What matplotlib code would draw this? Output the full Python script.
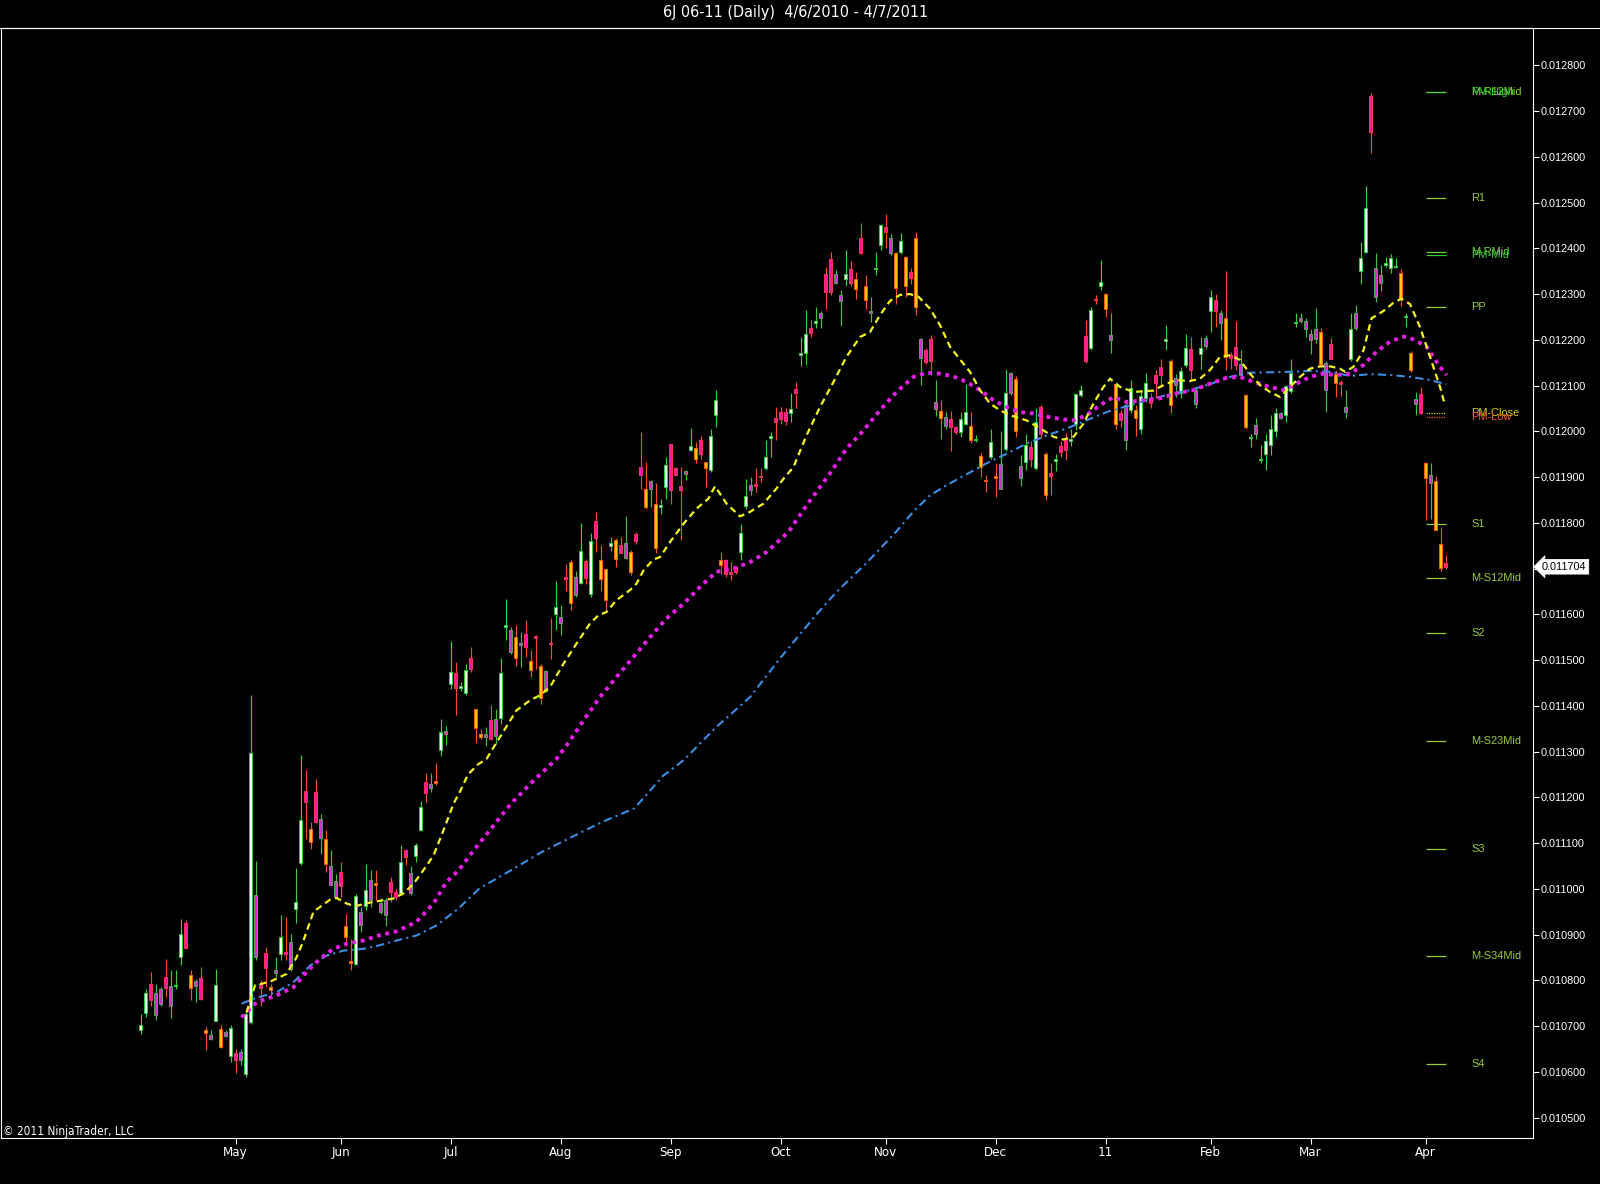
import matplotlib
matplotlib.use("Agg")
import matplotlib.pyplot as plt
from matplotlib.patches import Rectangle
from matplotlib.collections import PatchCollection
from matplotlib.lines import Line2D
from matplotlib import font_manager
import matplotlib.transforms as mtransforms
import numpy as np

# ---------------- data (prices in units of 1e-6) ----------------
PRICE_UNIT = 1e-6
title_text = "6J 06-11 (Daily)  4/6/2010 - 4/7/2011"
copyright_text = "\u00a9 2011 NinjaTrader, LLC"

month_labels = ["May", "Jun", "Jul", "Aug", "Sep", "Oct", "Nov", "Dec", "11", "Feb", "Mar", "Apr"]
month_bar = [19, 40, 62, 84, 106, 128, 149, 171, 193, 214, 234, 257]

price_ticks = [10500, 10600, 10700, 10800, 10900, 11000, 11100, 11200, 11300, 11400, 11500, 11600,
               11700, 11800, 11900, 12000, 12100, 12200, 12300, 12400, 12500, 12600, 12700, 12800]

# bar colouring state per bar (W / M / Y / P)
bar_state = ("WWPMMPMWWP" "YMPYMWYMWP" "MWWMPPYMWP" "MWWPYPMYMM" "PYYWMWMYMM"
             "PPWPMWWPMY" "WMWPWWPYYM" "PMWWMYMPYP" "YMPWMPYMWP" "WPYYWYPMYP"
             "PYMYWWPPPM" "WYPYWWYPPP" "WWMPPWWPPP" "WPWWPWMPPM" "MWPYPYMWWP"
             "MYWYPYMPPM" "YMPPWWYWYY" "WYMWMYMWPW" "PYPWPPWWWP" "WPWYMYPMWY"
             "WWPPPWYMWW" "PMWMWPMYPP" "MYWMWWWWMW" "WWMMMMYMPY" "PMWMWWPMMW"
             "WWYWYMPYMY" "YP")

opens = [10691, 10729, 10791, 10772, 10782, 10807, 10787, 10788, 10852, 10926,
         10811, 10798, 10806, 10691, 10680, 10712, 10694, 10687, 10634, 10642,
         10643, 10596, 10709, 10987, 10791, 10860, 10785, 10822, 10858, 10863,
         10884, 10955, 11057, 11214, 11131, 11212, 11153, 11108, 11050, 11017,
         11037, 10919, 10842, 10836, 10949, 10962, 11020, 11013, 10968, 10975,
         11014, 10993, 10991, 11084, 11035, 11071, 11128, 11234, 11230, 11235,
         11304, 11345, 11447, 11471, 11438, 11428, 11505, 11394, 11339, 11338,
         11370, 11372, 11374, 11573, 11566, 11550, 11537, 11556, 11499, 11552,
         11488, 11476, 11538, 11600, 11594, 11682, 11714, 11682, 11669, 11716,
         11645, 11803, 11718, 11698, 11749, 11763, 11751, 11755, 11736, 11776,
         11921, 11873, 11891, 11842, 11834, 11878, 11972, 11920, 11881, 11913,
         11960, 11964, 11981, 11932, 11915, 12035, 11718, 11718, 11693, 11704,
         11736, 11837, 11882, 11884, 11902, 11919, 11985, 12030, 12043, 12043,
         12039, 12093, 12166, 12171, 12225, 12236, 12259, 12344, 12376, 12343,
         12299, 12332, 12354, 12332, 12422, 12317, 12263, 12354, 12407, 12447,
         12422, 12389, 12392, 12380, 12349, 12422, 12201, 12177, 12201, 12064,
         12045, 12032, 12026, 12010, 11999, 12017, 12011, 11982, 11945, 11894,
         11943, 11902, 11929, 11962, 12128, 12115, 11924, 11933, 11966, 11919,
         12053, 11951, 11909, 11935, 11967, 11981, 11979, 12016, 12079, 12208,
         12181, 12290, 12317, 12300, 12210, 12103, 12039, 12057, 12046, 12046,
         12004, 12072, 12072, 12123, 12141, 12198, 12154, 12116, 12084, 12145,
         12179, 12090, 12169, 12204, 12263, 12288, 12258, 12247, 12166, 12185,
         12148, 12079, 11985, 12013, 11937, 11950, 11970, 12001, 12039, 12035,
         12088, 12236, 12247, 12242, 12212, 12223, 12218, 12150, 12191, 12125,
         12108, 12054, 12159, 12258, 12351, 12393, 12733, 12356, 12341, 12364,
         12358, 12359, 12347, 12249, 12172, 12070, 12081, 11930, 11904, 11892,
         11753, 11712]

highs = [10727, 10782, 10818, 10793, 10785, 10847, 10823, 10823, 10933, 10931,
         10823, 10804, 10829, 10698, 10691, 10825, 10702, 10691, 10702, 10650,
         10650, 10734, 11423, 11060, 10800, 10873, 10793, 10850, 10942, 10938,
         10902, 11046, 11292, 11259, 11146, 11241, 11163, 11128, 11084, 11033,
         11059, 10944, 10891, 10989, 10960, 11055, 11042, 11041, 10979, 10979,
         11026, 11000, 11095, 11088, 11049, 11101, 11191, 11253, 11254, 11274,
         11372, 11355, 11542, 11496, 11452, 11491, 11529, 11394, 11350, 11354,
         11401, 11394, 11505, 11634, 11572, 11576, 11561, 11587, 11521, 11554,
         11492, 11479, 11591, 11673, 11620, 11709, 11718, 11695, 11800, 11720,
         11778, 11824, 11751, 11700, 11769, 11766, 11769, 11814, 11741, 11780,
         11999, 11933, 11893, 11886, 11853, 11944, 11972, 11922, 11921, 11916,
         12008, 11977, 11989, 11933, 12006, 12090, 11736, 11720, 11714, 11705,
         11797, 11896, 11900, 11919, 11919, 11982, 11999, 12053, 12053, 12050,
         12083, 12108, 12207, 12265, 12243, 12272, 12263, 12360, 12392, 12352,
         12309, 12396, 12372, 12349, 12456, 12341, 12294, 12392, 12454, 12476,
         12432, 12392, 12434, 12383, 12356, 12436, 12203, 12181, 12210, 12112,
         12068, 12042, 12045, 12011, 12042, 12104, 12042, 11991, 11953, 11904,
         12006, 11930, 12001, 12137, 12130, 12120, 11948, 11995, 11979, 12050,
         12057, 11955, 11930, 11950, 11979, 11996, 12006, 12084, 12101, 12243,
         12271, 12298, 12374, 12303, 12259, 12106, 12046, 12068, 12112, 12057,
         12090, 12128, 12083, 12134, 12159, 12232, 12157, 12126, 12140, 12212,
         12207, 12099, 12207, 12210, 12309, 12301, 12265, 12351, 12174, 12242,
         12177, 12081, 11995, 12028, 11970, 11995, 12035, 12050, 12043, 12101,
         12157, 12259, 12258, 12247, 12223, 12269, 12225, 12154, 12205, 12134,
         12112, 12090, 12259, 12276, 12414, 12536, 12739, 12390, 12363, 12382,
         12387, 12378, 12354, 12259, 12176, 12086, 12097, 11933, 11930, 11902,
         11791, 11729]

lows = [10683, 10720, 10745, 10714, 10745, 10763, 10718, 10782, 10833, 10869,
        10758, 10753, 10756, 10647, 10670, 10711, 10653, 10676, 10621, 10597,
        10614, 10589, 10705, 10844, 10743, 10785, 10769, 10807, 10844, 10844,
        10820, 10925, 11051, 11108, 11086, 11143, 11077, 11037, 11008, 10979,
        10982, 10876, 10823, 10833, 10906, 10953, 10960, 10975, 10946, 10918,
        10971, 10975, 10989, 11051, 10986, 11059, 11127, 11190, 11212, 11226,
        11290, 11314, 11436, 11380, 11432, 11423, 11474, 11319, 11328, 11313,
        11325, 11317, 11361, 11543, 11514, 11488, 11485, 11507, 11463, 11481,
        11403, 11430, 11503, 11565, 11554, 11652, 11609, 11638, 11667, 11666,
        11638, 11736, 11652, 11609, 11739, 11704, 11733, 11720, 11685, 11753,
        11875, 11831, 11835, 11734, 11820, 11851, 11841, 11904, 11763, 11893,
        11957, 11930, 11940, 11878, 11911, 12010, 11689, 11682, 11674, 11689,
        11718, 11831, 11860, 11868, 11889, 11915, 11944, 11982, 12017, 12013,
        12021, 12050, 12143, 12148, 12207, 12225, 12225, 12268, 12298, 12323,
        12230, 12317, 12317, 12290, 12387, 12268, 12239, 12341, 12396, 12400,
        12385, 12279, 12387, 12294, 12323, 12254, 12101, 12148, 12123, 12033,
        11984, 12006, 11957, 11995, 11988, 12013, 11975, 11977, 11900, 11868,
        11940, 11857, 11873, 11957, 12079, 11988, 11880, 11916, 11922, 11916,
        11986, 11849, 11860, 11913, 11944, 11937, 11967, 12002, 12075, 12150,
        12177, 12279, 12309, 12249, 12171, 12006, 12010, 11960, 12039, 11989,
        11995, 12064, 12050, 12072, 12097, 12177, 12040, 12075, 12072, 12141,
        12112, 12050, 12137, 12179, 12218, 12229, 12199, 12134, 12137, 12135,
        12119, 12006, 11966, 11984, 11931, 11916, 11948, 11988, 12026, 12021,
        12084, 12229, 12236, 12207, 12170, 12192, 12141, 12043, 12157, 12075,
        12077, 12030, 12154, 12221, 12323, 12390, 12609, 12283, 12307, 12360,
        12345, 12356, 12274, 12229, 12130, 12035, 12037, 11806, 11809, 11785,
        11695, 11700]

closes = [10702, 10772, 10758, 10725, 10749, 10784, 10743, 10790, 10902, 10871,
          10783, 10787, 10760, 10685, 10672, 10790, 10654, 10678, 10696, 10625,
          10626, 10727, 11296, 10852, 10783, 10827, 10778, 10815, 10895, 10858,
          10825, 10971, 11151, 11189, 11102, 11145, 11112, 11055, 11009, 10982,
          11006, 10895, 10838, 10984, 10920, 10998, 10976, 11009, 10949, 10942,
          10993, 10982, 11059, 11070, 10991, 11095, 11179, 11210, 11221, 11231,
          11343, 11339, 11474, 11440, 11444, 11479, 11480, 11352, 11332, 11332,
          11328, 11333, 11472, 11577, 11518, 11505, 11534, 11529, 11479, 11549,
          11418, 11432, 11536, 11615, 11580, 11678, 11625, 11642, 11739, 11680,
          11760, 11766, 11678, 11632, 11755, 11722, 11734, 11724, 11693, 11760,
          11905, 11835, 11875, 11746, 11838, 11927, 11871, 11905, 11871, 11906,
          11967, 11940, 11951, 11919, 11989, 12068, 11707, 11689, 11689, 11693,
          11778, 11858, 11871, 11881, 11900, 11943, 11989, 12021, 12026, 12023,
          12048, 12084, 12172, 12212, 12214, 12241, 12247, 12305, 12305, 12325,
          12285, 12343, 12325, 12312, 12390, 12288, 12258, 12358, 12451, 12436,
          12390, 12314, 12416, 12317, 12336, 12272, 12161, 12152, 12154, 12048,
          12028, 12011, 12010, 11999, 12026, 12042, 11981, 11984, 11922, 11892,
          11977, 11898, 11875, 12083, 12083, 12001, 11897, 11970, 11940, 12021,
          11995, 11860, 11903, 11940, 11955, 11959, 11984, 12081, 12091, 12154,
          12266, 12287, 12327, 12268, 12199, 12017, 12024, 11982, 12094, 12028,
          12077, 12105, 12062, 12105, 12123, 12201, 12057, 12101, 12132, 12183,
          12135, 12059, 12183, 12186, 12294, 12263, 12236, 12163, 12161, 12145,
          12123, 12010, 11988, 11994, 11940, 11979, 12006, 12040, 12028, 12099,
          12128, 12239, 12242, 12223, 12199, 12201, 12148, 12090, 12159, 12106,
          12103, 12043, 12223, 12225, 12378, 12487, 12655, 12294, 12325, 12367,
          12378, 12361, 12290, 12252, 12135, 12059, 12039, 11897, 11886, 11785,
          11702, 11704]

# moving averages (bar position, value)
fast_ma_bar = [21.2, 22.9, 25.9, 29.2, 31.2, 32.6, 34.6, 36.6, 38, 39.2, 41.2, 42.9, 45.9, 50.6, 52.6,
               54.6, 56.6, 58.6, 60.6, 62.6, 64, 65.5, 67.5, 69.2, 71.9, 75.2, 77.9, 79.9, 81.9, 84.6,
               87.2, 89.9, 91.6, 93.2, 95.2, 97.9, 99.2, 100.6, 102.6, 103.9, 105.9, 108.6, 111.2,
               113.6, 114.9, 117.2, 119.9, 121.9, 124.6, 127.2, 128.5, 130.6, 133.2, 135.9, 138.6,
               141.2, 143.9, 145.9, 147.9, 149.9, 151.9, 153.9, 155.6, 157.9, 159.9, 161.9, 163.9,
               165.9, 167.9, 169.9, 171.9, 173.9, 177.2, 180.6, 182.6, 184.6, 186.6, 188.6, 190.6,
               192.6, 193.9, 195.9, 198.6, 202.6, 203.9, 205.2, 207.2, 209.9, 211.9, 213.9, 215.9,
               217.9, 219.9, 221.9, 223.9, 225.9, 227.9, 229.9, 231.9, 233.9, 235.9, 237.9, 239.9,
               240.9, 242.6, 244.6, 246.2, 248.6, 250.6, 252.2, 253.9, 255.9, 257.9, 259.9, 260.9]
fast_ma_val = [10730, 10789, 10797, 10814, 10850, 10887, 10950, 10966, 10977, 10980, 10968, 10962, 10970,
               10979, 10990, 11011, 11041, 11073, 11128, 11186, 11215, 11250, 11272, 11284, 11332, 11390,
               11412, 11423, 11441, 11492, 11536, 11580, 11598, 11605, 11631, 11653, 11667, 11696, 11720,
               11725, 11758, 11798, 11831, 11853, 11880, 11842, 11814, 11824, 11842, 11875, 11895, 11922,
               11991, 12053, 12108, 12163, 12206, 12217, 12254, 12285, 12298, 12300, 12294, 12268, 12232,
               12185, 12157, 12130, 12090, 12061, 12046, 12035, 12024, 12002, 11988, 11982, 11988, 12017,
               12061, 12097, 12115, 12097, 12086, 12089, 12097, 12104, 12112, 12110, 12115, 12134, 12163,
               12166, 12156, 12126, 12101, 12086, 12075, 12097, 12119, 12137, 12142, 12142, 12137, 12130,
               12141, 12177, 12247, 12263, 12281, 12290, 12278, 12228, 12163, 12097, 12057]

mid_ma_bar = [20.2, 23.2, 27.2, 30.6, 33.2, 35.9, 38.6, 41.2, 44.6, 47.6, 51.2, 55.2, 58.6, 61.2, 63.6,
              66, 70, 74, 78, 83.2, 85.9, 88.6, 91.9, 95.2, 98.6, 101.9, 105.2, 108.6, 111.9, 115.2,
              118.6, 121.9, 125.2, 129.6, 133.2, 137.9, 141.2, 144.6, 147.9, 151.2, 154.6, 157.2,
              159.9, 162.6, 165.2, 167.9, 170.6, 173.2, 175.9, 178.6, 181.2, 184.6, 186.6, 189.2,
              191.9, 194.6, 197.2, 200.6, 203.9, 207.2, 210.6, 213.9, 217.2, 219.9, 222.6, 225.9,
              228.6, 231.2, 233.9, 236.6, 239.2, 241.9, 244.6, 247.2, 249.9, 252.6, 254.6, 257.2,
              259.9, 261.2]
mid_ma_val = [10719, 10752, 10767, 10785, 10818, 10847, 10869, 10880, 10887, 10898, 10907, 10928, 10968,
              11015, 11040, 11075, 11130, 11185, 11230, 11284, 11324, 11368, 11419, 11463, 11507, 11550,
              11591, 11623, 11660, 11693, 11700, 11714, 11736, 11780, 11838, 11908, 11962, 12002, 12046,
              12086, 12119, 12128, 12126, 12120, 12108, 12090, 12068, 12053, 12042, 12039, 12032, 12026,
              12024, 12035, 12057, 12075, 12064, 12068, 12072, 12083, 12090, 12104, 12117, 12119, 12108,
              12097, 12090, 12104, 12119, 12126, 12123, 12126, 12145, 12174, 12196, 12207, 12201, 12185,
              12141, 12123]

slow_ma_bar = [20.2, 23.2, 27.2, 30.6, 33.9, 37.2, 40.6, 44.6, 47.6, 51.2, 55.2, 59.2, 63.6, 67.8, 74,
               80, 86, 92.3, 98.8, 104.5, 108.6, 115.2, 121.9, 128, 135.2, 139.2, 145, 151.5, 154.6,
               157.9, 161.2, 165.2, 169.2, 173.2, 177.2, 181.2, 185.2, 189.2, 193.2, 197.9, 201.9,
               205.9, 209.9, 213.9, 217.9, 221.9, 225.9, 229.9, 233.9, 237.9, 241.9, 245.9, 249.9,
               253.9, 257.9, 261.2]
slow_ma_val = [10749, 10762, 10774, 10796, 10832, 10854, 10865, 10869, 10876, 10887, 10898, 10920, 10957,
               11001, 11040, 11079, 11112, 11146, 11176, 11247, 11281, 11354, 11419, 11505, 11600, 11649,
               11710, 11785, 11825, 11860, 11882, 11906, 11930, 11951, 11973, 11991, 12006, 12024, 12042,
               12057, 12070, 12081, 12090, 12103, 12119, 12128, 12129, 12130, 12132, 12130, 12121, 12125,
               12123, 12119, 12112, 12103]

# monthly pivot levels (drawn over the current month's bars)
pivot_names = ["M-R12Mid", "PM-High", "R1", "M-RMid", "PM-Mid", "PP", "PM-Close", "PM-Low",
               "S1", "M-S12Mid", "S2", "M-S23Mid", "S3", "M-S34Mid", "S4"]
pivot_values = [12741, 12741, 12509, 12392, 12385, 12271, 12039, 12032,
                11798, 11680, 11560, 11324, 11087, 10854, 10618]
pivot_start_bar = 257
pivot_end_bar = 261

# ---------------- styling ----------------
W, H = 1600, 1184
names = {f.name for f in font_manager.fontManager.ttflist}
REG = "Liberation Sans" if "Liberation Sans" in names else "DejaVu Sans"
if "Liberation Sans Narrow" in names:
    NARROW, NSTRETCH = "Liberation Sans Narrow", "normal"
else:
    NARROW, NSTRETCH = "DejaVu Sans", "condensed"

state_style = {
    "W": dict(face="#F2FFF2", edge="#2FCC3A", wick="#35D035"),
    "M": dict(face="#D62ED2", edge="#5E9E62", wick="#3FC040"),
    "Y": dict(face="#FFC412", edge="#FF5A0A", wick="#FF4F1E"),
    "P": dict(face="#FF1A98", edge="#FF3060", wick="#FF4A22"),
}
pivot_color = {"M-R12Mid": "#7EDB2E", "PM-High": "#32CD32", "R1": "#9ACD32", "M-RMid": "#6CD636",
               "PM-Mid": "#32CD32", "PP": "#9ACD32", "PM-Close": "#D2D20A", "PM-Low": "#FF5A1E",
               "S1": "#9ACD32", "M-S12Mid": "#9ACD32", "S2": "#9ACD32", "M-S23Mid": "#9ACD32",
               "S3": "#9ACD32", "M-S34Mid": "#9ACD32", "S4": "#9ACD32"}
dotted_pivots = {"PM-High", "PM-Close", "PM-Low"}

fig = plt.figure(figsize=(W / 100, H / 100), dpi=100, facecolor="black")
ax_left, ax_right, ax_top, ax_bot = 1, 1533, 27.5, 1138
ax = fig.add_axes([ax_left / W, 1 - ax_bot / H, (ax_right - ax_left) / W, (ax_bot - ax_top) / H],
                  facecolor="black")

o = np.array(opens) * PRICE_UNIT
hi = np.array(highs) * PRICE_UNIT
lo = np.array(lows) * PRICE_UNIT
c = np.array(closes) * PRICE_UNIT
x = np.arange(len(o))
assert len(bar_state) == len(o)

bw = 0.7
for st, sty in state_style.items():
    sel = [k for k, s in enumerate(bar_state) if s == st]
    ax.vlines(x[sel], lo[sel], hi[sel], color=sty["wick"], lw=0.85, zorder=2)
    rects = [Rectangle((x[k] - bw / 2, min(o[k], c[k])), bw, abs(c[k] - o[k])) for k in sel]
    ax.add_collection(PatchCollection(rects, facecolor=sty["face"], edgecolor=sty["edge"],
                                      linewidths=0.7, zorder=3))

# moving averages
ax.plot(slow_ma_bar, np.array(slow_ma_val) * PRICE_UNIT, color="#3B8DE6", lw=1.5,
        ls=(0, (4, 2, 1, 2)), zorder=4)
ax.plot(mid_ma_bar, np.array(mid_ma_val) * PRICE_UNIT, color="#E61EE6", lw=2.8,
        ls=(0, (1, 1.2)), dash_capstyle="butt", zorder=4)
ax.plot(fast_ma_bar, np.array(fast_ma_val) * PRICE_UNIT, color="#F5F51E", lw=1.6,
        ls=(0, (3, 2)), zorder=4)

# pivots
for name, val in zip(pivot_names, pivot_values):
    col = pivot_color[name]
    ls = (0, (1, 1)) if name in dotted_pivots else "-"
    ax.hlines(val * PRICE_UNIT, pivot_start_bar, pivot_end_bar, color=col, lw=0.9, linestyles=[ls], zorder=5)
    ax.text(pivot_start_bar + 9.2, val * PRICE_UNIT, name, color=col, fontsize=7.9, family=REG,
            ha="left", va="center", zorder=6)

# axes
ax.set_xlim(-27.9, 278.5)
ax.set_ylim(0.0104554, 0.0128826)
for sp in ax.spines.values():
    sp.set_color("white")
    sp.set_linewidth(0.8)
ax.yaxis.tick_right()
ax.set_yticks([t * PRICE_UNIT for t in price_ticks])
ax.set_yticklabels([f"{t * PRICE_UNIT:.6f}" for t in price_ticks])
ax.tick_params(axis="y", colors="white", length=4.3, width=0.8, labelsize=7.8, pad=1.2)
for lab in ax.get_yticklabels():
    lab.set_family(REG)
ax.set_xticks(month_bar)
ax.set_xticklabels(month_labels)
ax.tick_params(axis="x", colors="white", length=4.0, width=0.8, labelsize=9.5, pad=1.5)
for lab in ax.get_xticklabels():
    lab.set_family(NARROW)
    lab.set_stretch(NSTRETCH)

# last price tag
trans = mtransforms.blended_transform_factory(ax.transAxes, ax.transData)
ax.text(1.0058, c[-1], f"{c[-1]:.6f}", transform=trans, ha="left", va="center", fontsize=7.8,
        family=REG, color="black", zorder=10, clip_on=False,
        bbox=dict(boxstyle="larrow,pad=0.22", fc="white", ec="white", lw=0.5))

# frame line across the whole top, title and copyright
fig.add_artist(Line2D([0, 1], [1 - ax_top / H] * 2, transform=fig.transFigure, color="white", lw=0.8))
fig.text(796 / W, 1 - 13 / H, title_text, ha="center", va="center", color="white", fontsize=11.5,
         family=NARROW, stretch=NSTRETCH)
fig.text(3 / W, 1 - 1131 / H, copyright_text, ha="left", va="center", color="white", fontsize=8.5,
         family=NARROW, stretch=NSTRETCH)

fig.savefig("out.png", dpi=100, facecolor="black")
